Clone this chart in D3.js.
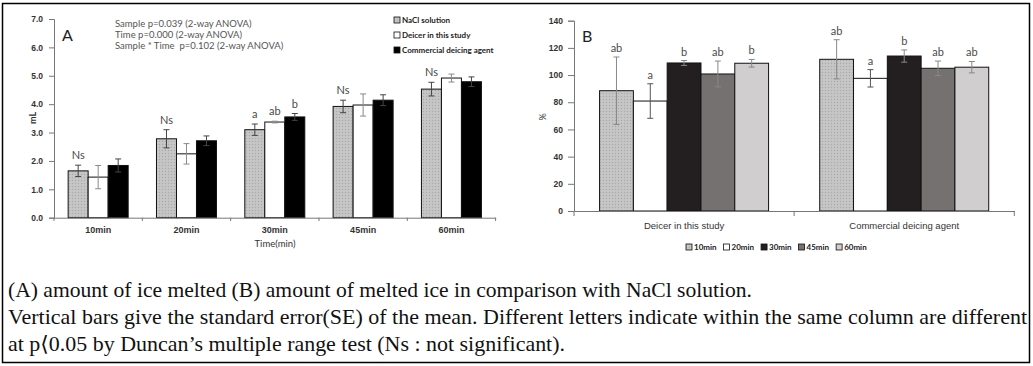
<!DOCTYPE html>
<meta charset="utf-8">
<style>
body { margin: 0; background: #fff; }
svg { font-family: Lato, "Open Sans", sans-serif; }
.tick text { fill: #333; }
.caption { font-family: "Liberation Serif", "DejaVu Serif", serif; font-size: 21px; fill: #111; }
</style>
<body>
<script src="https://cdn.jsdelivr.net/npm/d3@7"></script>
<script>
// ---- data, chart A (amount of ice melted, mL)
var timesA = ["10min", "20min", "30min", "45min", "60min"];
var seriesA = ["NaCl solution", "Deicer in this study", "Commercial deicing agent"];
var naclMean = [1.65, 2.78, 3.10, 3.92, 4.53];
var naclErr = [0.20, 0.32, 0.20, 0.22, 0.24];
var deicerMean = [1.43, 2.25, 3.37, 3.97, 4.92];
var deicerErr = [0.41, 0.36, 0.03, 0.39, 0.14];
var commMean = [1.84, 2.71, 3.55, 4.14, 4.79];
var commErr = [0.23, 0.17, 0.12, 0.19, 0.17];
var lettersA = [["Ns", "", ""], ["Ns", "", ""], ["a", "ab", "b"], ["Ns", "", ""], ["Ns", "", ""]];
var yTicksA = [0, 1, 2, 3, 4, 5, 6, 7];
var anovaText = ["Sample p=0.039 (2-way ANOVA)", "Time p=0.000 (2-way ANOVA)", "Sample * Time  p=0.102 (2-way ANOVA)"];

// ---- data, chart B (% of NaCl solution)
var groupsB = ["Deicer in this study", "Commercial deicing agent"];
var timesB = ["10min", "20min", "30min", "45min", "60min"];
var pct10 = [88.5, 111.6], pct10Err = [24.8, 14.4];
var pct20 = [80.9, 97.6], pct20Err = [12.7, 6.4];
var pct30 = [108.9, 114.0], pct30Err = [1.8, 4.5];
var pct45 = [100.8, 105.0], pct45Err = [9.5, 5.3];
var pct60 = [108.7, 105.8], pct60Err = [2.8, 4.2];
var lettersB = [["ab", "a", "b", "ab", "b"], ["ab", "a", "b", "ab", "ab"]];
var yTicksB = [0, 20, 40, 60, 80, 100, 120, 140];

var captionLines = [
  "(A) amount of ice melted (B) amount of melted ice in comparison with NaCl solution.",
  "Vertical bars give the standard error(SE) of the mean. Different letters indicate within the same column are different",
  "at p\u27e80.05 by Duncan\u2019s multiple range test (Ns : not significant)."
];

var svg = d3.select("body").append("svg")
    .attr("width", 1033)
    .attr("height", 366);

// texture for the light grey bars
var defs = svg.append("defs");
var pat = defs.append("pattern")
    .attr("id", "dots")
    .attr("width", 3).attr("height", 3)
    .attr("patternUnits", "userSpaceOnUse");
pat.append("rect").attr("width", 3).attr("height", 3).attr("fill", "#c3c3c3");
pat.append("rect").attr("width", 1).attr("height", 1).attr("fill", "#a9a9a9");
pat.append("rect").attr("x", 1.5).attr("y", 1.5).attr("width", 1).attr("height", 1).attr("fill", "#d2d2d2");

svg.append("rect")
    .attr("x", 2.5).attr("y", 3.5)
    .attr("width", 1027).attr("height", 359)
    .attr("fill", "none")
    .attr("stroke", "#000")
    .attr("stroke-width", 1.5);

// ================= chart A
var gA = svg.append("g");
var xA = d3.scaleBand().domain(timesA).range([54, 495.6]).paddingInner(0).paddingOuter(0);
var xSub = d3.scaleBand().domain(seriesA).range([0, 60]);
var yA = d3.scaleLinear().domain([0, 7]).range([217.7, 19]);
var colorA = ["url(#dots)", "#fff", "#000"];
var errColorA = ["#444", "#8a8a8a", "#444"];

var rowsA = timesA.map(function(t, i) {
  return [
    {t: t, s: seriesA[0], k: 0, v: naclMean[i], e: naclErr[i], lab: lettersA[i][0]},
    {t: t, s: seriesA[1], k: 1, v: deicerMean[i], e: deicerErr[i], lab: lettersA[i][1]},
    {t: t, s: seriesA[2], k: 2, v: commMean[i], e: commErr[i], lab: lettersA[i][2]}
  ];
});
var flatA = d3.merge(rowsA);
function barXA(d) { return xA(d.t) + (xA.bandwidth() - 60) / 2 + xSub(d.s); }

gA.append("g")
    .attr("transform", "translate(54,0)")
    .call(d3.axisLeft(yA).tickValues(yTicksA).tickFormat(d3.format(".1f")).tickSize(5).tickPadding(6))
    .call(function(g) {
      g.select(".domain").attr("stroke", "#777");
      g.selectAll(".tick line").attr("stroke", "#777");
      g.selectAll(".tick text").attr("font-size", 8.5).attr("font-weight", "bold");
    });

gA.selectAll(".barA")
    .data(flatA)
  .enter().append("rect")
    .attr("class", "barA")
    .attr("x", barXA)
    .attr("y", function(d) { return yA(d.v); })
    .attr("width", xSub.bandwidth())
    .attr("height", function(d) { return yA(0) - yA(d.v); })
    .attr("fill", function(d) { return colorA[d.k]; })
    .attr("stroke", "#111")
    .attr("stroke-width", 1);

var errA = gA.selectAll(".errA")
    .data(flatA)
  .enter().append("g")
    .attr("class", "errA")
    .attr("stroke", function(d) { return errColorA[d.k]; })
    .attr("stroke-width", 1);
errA.append("line")
    .attr("x1", function(d) { return barXA(d) + xSub.bandwidth() / 2; })
    .attr("x2", function(d) { return barXA(d) + xSub.bandwidth() / 2; })
    .attr("y1", function(d) { return yA(d.v - d.e); })
    .attr("y2", function(d) { return yA(d.v + d.e); });
[-1, 1].forEach(function(sg) {
  errA.append("line")
      .attr("x1", function(d) { return barXA(d) + xSub.bandwidth() / 2 - 3; })
      .attr("x2", function(d) { return barXA(d) + xSub.bandwidth() / 2 + 3; })
      .attr("y1", function(d) { return yA(d.v + sg * d.e); })
      .attr("y2", function(d) { return yA(d.v + sg * d.e); });
});

gA.selectAll(".letA")
    .data(flatA.filter(function(d) { return d.lab; }))
  .enter().append("text")
    .attr("x", function(d) { return barXA(d) + xSub.bandwidth() / 2; })
    .attr("y", function(d) { return yA(d.v + d.e) - 6; })
    .attr("text-anchor", "middle")
    .attr("font-size", 11)
    .attr("fill", "#4a4a4a")
    .text(function(d) { return d.lab; });

gA.append("g")
    .attr("transform", "translate(0,217.7)")
    .call(d3.axisBottom(xA).tickSize(0).tickPadding(9))
    .call(function(g) {
      g.select(".domain").attr("stroke", "#777");
      g.selectAll(".tick text").attr("font-size", 9).attr("font-weight", "bold");
    });
// category separator ticks
gA.selectAll(".sepA")
    .data(timesA.concat(["end"]))
  .enter().append("line")
    .attr("x1", function(d, i) { return i < timesA.length ? xA(d) : xA.range()[1]; })
    .attr("x2", function(d, i) { return i < timesA.length ? xA(d) : xA.range()[1]; })
    .attr("y1", 217.7).attr("y2", 221)
    .attr("stroke", "#777");

gA.append("text")
    .attr("x", 275).attr("y", 247)
    .attr("text-anchor", "middle")
    .attr("font-size", 9.5).attr("fill", "#333")
    .text("Time(min)");

gA.append("text")
    .attr("transform", "translate(36,118) rotate(-90)")
    .attr("text-anchor", "middle")
    .attr("font-size", 9).attr("font-weight", "bold").attr("fill", "#333")
    .text("mL");

gA.append("text")
    .attr("x", 62).attr("y", 41)
    .attr("font-size", 16).attr("fill", "#222")
    .text("A");

gA.selectAll(".anova")
    .data(anovaText)
  .enter().append("text")
    .attr("x", 115)
    .attr("y", function(d, i) { return 27 + i * 11; })
    .attr("font-size", 9.5).attr("fill", "#555")
    .attr("xml:space", "preserve")
    .text(function(d) { return d; });

var legA = gA.selectAll(".legA")
    .data(seriesA)
  .enter().append("g")
    .attr("transform", function(d, i) { return "translate(394," + (20 + i * 15) + ")"; });
legA.append("rect")
    .attr("x", 0).attr("y", -3)
    .attr("width", 6).attr("height", 6)
    .attr("fill", function(d, i) { return colorA[i]; })
    .attr("stroke", "#111").attr("stroke-width", 0.8);
legA.append("text")
    .attr("x", 8).attr("y", 3)
    .attr("font-size", 8).attr("font-weight", "bold").attr("fill", "#222")
    .text(function(d) { return d; });

// ================= chart B
var gB = svg.append("g");
var xB = d3.scaleBand().domain(groupsB).range([574, 1014.3]);
var xSubB = d3.scaleBand().domain(timesB).range([0, 169]);
var yB = d3.scaleLinear().domain([0, 140]).range([211, 20.7]);
var colorB = ["url(#dots)", "#fff", "#231f20", "#767171", "#d0cece"];

var meansB = [pct10, pct20, pct30, pct45, pct60];
var errsB = [pct10Err, pct20Err, pct30Err, pct45Err, pct60Err];
var flatB = [];
groupsB.forEach(function(g, gi) {
  timesB.forEach(function(t, ti) {
    flatB.push({g: g, t: t, k: ti, v: meansB[ti][gi], e: errsB[ti][gi], lab: lettersB[gi][ti]});
  });
});
function barXB(d) { return xB(d.g) + (xB.bandwidth() - 169) / 2 + xSubB(d.t); }

gB.append("g")
    .attr("transform", "translate(574,0)")
    .call(d3.axisLeft(yB).tickValues(yTicksB).tickSize(6).tickPadding(5))
    .call(function(g) {
      g.select(".domain").attr("stroke", "#777");
      g.selectAll(".tick line").attr("stroke", "#777");
      g.selectAll(".tick text").attr("font-size", 8.5).attr("font-weight", "bold");
    });

gB.selectAll(".barB")
    .data(flatB)
  .enter().append("rect")
    .attr("x", barXB)
    .attr("y", function(d) { return yB(d.v); })
    .attr("width", xSubB.bandwidth())
    .attr("height", function(d) { return yB(0) - yB(d.v); })
    .attr("fill", function(d) { return colorB[d.k]; })
    .attr("stroke", "#111")
    .attr("stroke-width", 1);

var errB = gB.selectAll(".errB")
    .data(flatB)
  .enter().append("g")
    .attr("stroke", function(d) { return d.k === 1 ? "#555" : "#888"; })
    .attr("stroke-width", 1);
errB.append("line")
    .attr("x1", function(d) { return barXB(d) + xSubB.bandwidth() / 2; })
    .attr("x2", function(d) { return barXB(d) + xSubB.bandwidth() / 2; })
    .attr("y1", function(d) { return yB(d.v - d.e); })
    .attr("y2", function(d) { return yB(d.v + d.e); });
[-1, 1].forEach(function(sg) {
  errB.append("line")
      .attr("x1", function(d) { return barXB(d) + xSubB.bandwidth() / 2 - 3; })
      .attr("x2", function(d) { return barXB(d) + xSubB.bandwidth() / 2 + 3; })
      .attr("y1", function(d) { return yB(d.v + sg * d.e); })
      .attr("y2", function(d) { return yB(d.v + sg * d.e); });
});

gB.selectAll(".letB")
    .data(flatB)
  .enter().append("text")
    .attr("x", function(d) { return barXB(d) + xSubB.bandwidth() / 2; })
    .attr("y", function(d) { return yB(d.v + d.e) - 5; })
    .attr("text-anchor", "middle")
    .attr("font-size", 11)
    .attr("fill", "#4a4a4a")
    .text(function(d) { return d.lab; });

gB.append("g")
    .attr("transform", "translate(0,211)")
    .call(d3.axisBottom(xB).tickSize(0).tickPadding(11))
    .call(function(g) {
      g.select(".domain").attr("stroke", "#777");
      g.selectAll(".tick text").attr("font-size", 9.5);
    });
gB.selectAll(".sepB")
    .data([0, 1, 2])
  .enter().append("line")
    .attr("x1", function(d) { return xB.range()[0] + d * xB.bandwidth(); })
    .attr("x2", function(d) { return xB.range()[0] + d * xB.bandwidth(); })
    .attr("y1", 211).attr("y2", 216)
    .attr("stroke", "#777");

gB.append("text")
    .attr("transform", "translate(546,117) rotate(-90)")
    .attr("text-anchor", "middle")
    .attr("font-size", 9).attr("fill", "#333")
    .text("%");

gB.append("text")
    .attr("x", 582).attr("y", 42)
    .attr("font-size", 16).attr("fill", "#222")
    .text("B");

var legB = gB.append("g").attr("transform", "translate(686,247)");
var lx = 0;
timesB.forEach(function(t, i) {
  var it = legB.append("g").attr("transform", "translate(" + lx + ",0)");
  it.append("rect")
      .attr("x", 0).attr("y", -3)
      .attr("width", 6).attr("height", 6)
      .attr("fill", colorB[i])
      .attr("stroke", "#111").attr("stroke-width", 0.8);
  var tx = it.append("text")
      .attr("x", 8).attr("y", 3)
      .attr("font-size", 8).attr("font-weight", "bold").attr("fill", "#222")
      .text(t);
  lx += 8 + tx.node().getComputedTextLength() + 7;
});

// ================= caption
var widths = [744, 1019, 557];
svg.selectAll(".caption")
    .data(captionLines)
  .enter().append("text")
    .attr("class", "caption")
    .attr("x", 8)
    .attr("y", function(d, i) { return 297 + i * 27; })
    .attr("textLength", function(d, i) { return widths[i]; })
    .attr("lengthAdjust", "spacingAndGlyphs")
    .text(function(d) { return d; });
</script>
</body>
